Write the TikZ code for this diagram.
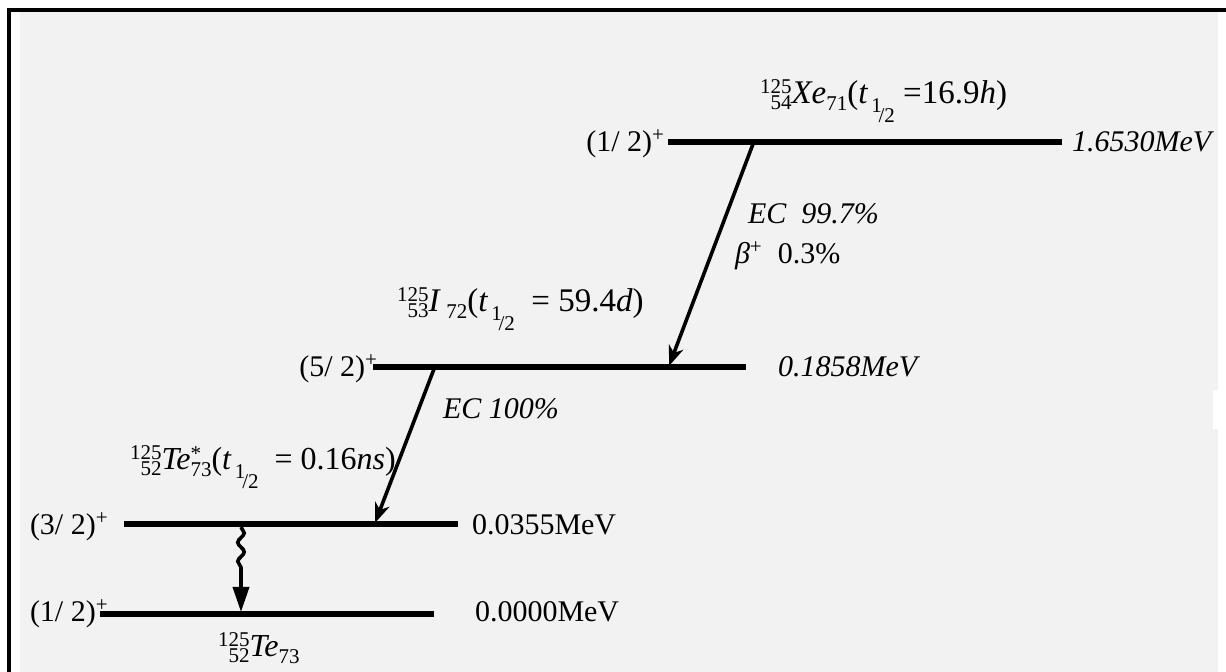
\documentclass[tikz,border=0pt]{standalone}
\usepackage{fontspec}
\setmainfont{Liberation Serif}
\usetikzlibrary{arrows.meta,decorations.pathmorphing}
\newcommand\scr{\fontsize{10.5}{12}\selectfont}
\newcommand\pre[2]{\phantom{\scr #1}\llap{\scr\raisebox{1.05ex}{#1}}\llap{\scr\raisebox{-0.6ex}{#2}}}
\newcommand\half{\kern0.1em\raisebox{-0.55ex}{\scr 1}\kern-0.1em\raisebox{-1.25ex}{\scr /2}}
\newcommand\sub[1]{\raisebox{-0.45ex}{\scr #1}}
\definecolor{bggray}{HTML}{F2F2F2}
\begin{document}
\begin{tikzpicture}[x=0.5pt,y=-0.5pt,
  every node/.style={inner sep=0pt,outer sep=0pt,font=\fontsize{15}{18}\selectfont},
  lvl/.style={line width=2.8pt},
  decay/.style={line width=1.8pt,-{Stealth[length=10pt,width=7.5pt,inset=3pt]}},
  gam/.style={line width=1.8pt,decorate,decoration={snake,amplitude=1.6pt,segment length=9.5pt}},
  gamtip/.style={line width=1.8pt,-{Triangle[length=12.5pt,width=8pt]}}]
\useasboundingbox (0,0) rectangle (1226,672);
\fill[white] (0,0) rectangle (1226,672);
\fill[bggray] (20,12) rectangle (1218,672);
\fill[white] (1213,390) rectangle (1218,429);
\fill[black] (7,8) rectangle (1226,12);
\fill[black] (7,8) rectangle (11,672);
% levels
\coordinate (l1a) at (668,142); \coordinate (l1b) at (1062,142);
\coordinate (l2a) at (373,367); \coordinate (l2b) at (746,367);
\coordinate (l3a) at (124,524); \coordinate (l3b) at (458,524);
\coordinate (l4a) at (100,614); \coordinate (l4b) at (434,614);
\draw[lvl] (l1a) -- (l1b);
\draw[lvl] (l2a) -- (l2b);
\draw[lvl] (l3a) -- (l3b);
\draw[lvl] (l4a) -- (l4b);
% decays
\coordinate (d1s) at (753,144); \coordinate (d1e) at (669,366);
\coordinate (d2s) at (434,369); \coordinate (d2e) at (375,523);
\draw[decay] (d1s) -- (d1e);
\draw[decay] (d2s) -- (d2e);
\coordinate (g1) at (241,527); \coordinate (g2) at (241,576); \coordinate (g3) at (241,612);
\draw[gam] (g1) -- (g2);
\draw[gamtip] (g2) -- (g3);
% labels
\node[anchor=base west,font=\fontsize{16.5}{18}\selectfont] (t1) at (760,104) {\pre{125}{54}\textit{Xe}\sub{71}(\textit{t}\half\ =16.9\textit{h})};
\node[anchor=base east] (s1) at (665,152) {(1/ 2)\textsuperscript{+}};
\node[anchor=base west] (e1) at (1072,152) {\textit{1.6530MeV}};
\node[anchor=base west] (b1) at (748,224) {\textit{EC\ \ 99.7\%}};
\node[anchor=base west] (b2) at (735,264) {\textit{β}\textsuperscript{+}\ \ 0.3\%};
\node[anchor=base west,font=\fontsize{16.5}{18}\selectfont] (t2) at (397,312) {\pre{125}{53}\textit{I}\,\sub{72}(\textit{t}\half\ \ = 59.4\textit{d})};
\node[anchor=base east] (s2) at (378,377) {(5/ 2)\textsuperscript{+}};
\node[anchor=base west] (e2) at (778,377) {\textit{0.1858MeV}};
\node[anchor=base west] (b3) at (443,419) {\textit{EC 100\%}};
\node[anchor=base west,font=\fontsize{16}{18}\selectfont] (t3) at (130,470) {\pre{125}{52}\textit{Te}\rlap{\scr\raisebox{1.0ex}{*}}\sub{73}(\textit{t}\half\ \ = 0.16\textit{ns})};
\node[anchor=base west] (s3) at (30,535) {(3/ 2)\textsuperscript{+}};
\node[anchor=base west] (e3) at (472,535) {0.0355MeV};
\node[anchor=base west] (s4) at (30,622) {(1/ 2)\textsuperscript{+}};
\node[anchor=base west] (e4) at (475,622) {0.0000MeV};
\node[anchor=base west,font=\fontsize{16}{18}\selectfont] (t4) at (218,657) {\pre{125}{52}\textit{Te}\sub{73}};
\end{tikzpicture}
\end{document}
